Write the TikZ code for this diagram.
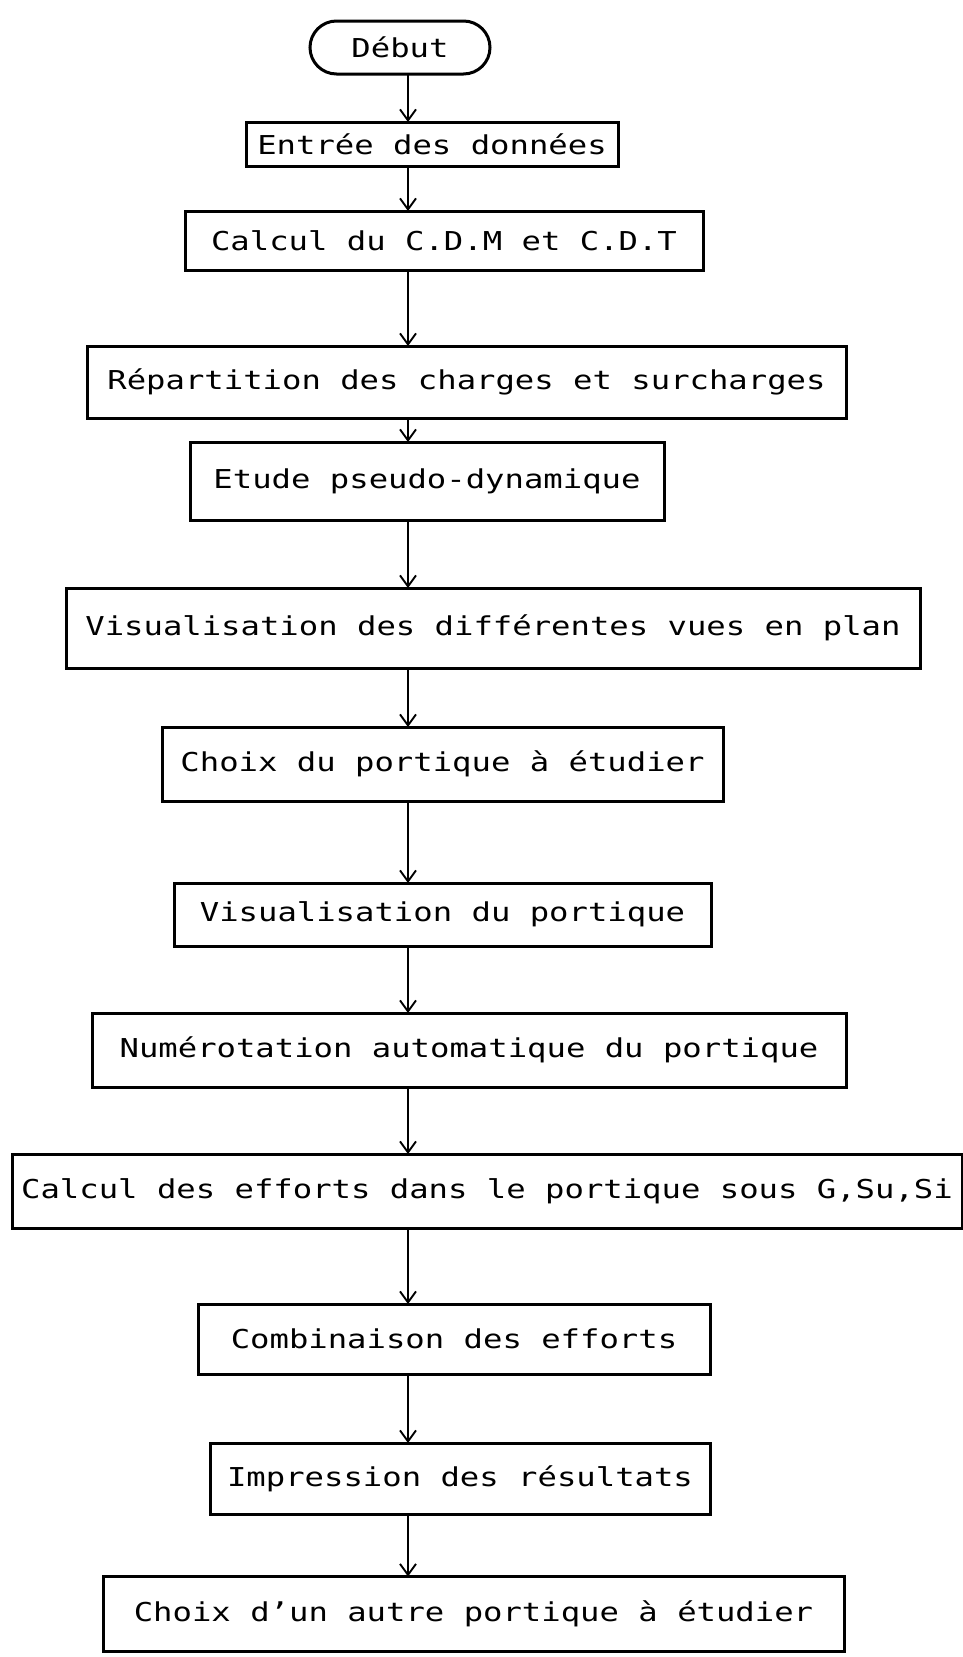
\documentclass[tikz,border=0pt]{standalone}
\usepackage{fontspec}
\usetikzlibrary{arrows.meta,shapes.misc}
\newfontfamily\boxfont[FakeStretch=1.24]{DejaVu Sans Mono}

\tikzset{
  stepbox/.style={draw, line width=3pt, inner sep=0pt, outer sep=0pt,
    font=\boxfont\fontsize{26}{30}\selectfont},
  startbox/.style={stepbox, rounded rectangle},
  flow/.style={line width=1.9pt, -{Straight Barb[length=11pt,width=16pt,line width=1.9pt]}}
}

\begin{document}
\begin{tikzpicture}[x=1pt,y=-1pt]
  \path[use as bounding box, fill=white] (0,0) rectangle (963,1657);

  % column of the connectors
  \coordinate (col) at (408,0);

  \node[startbox, minimum width=180pt, minimum height=53pt] (debut) at (400,47.5) {Début};
  \node[stepbox, minimum width=372pt, minimum height=44pt] (entree) at (432,144) {Entrée des données};
  \node[stepbox, minimum width=518pt, minimum height=59pt] (cdm) at (444,240.5) {Calcul du C.D.M et C.D.T};
  \node[stepbox, minimum width=759pt, minimum height=72pt] (rep) at (466.5,382) {Répartition des charges et surcharges};
  \node[stepbox, minimum width=474pt, minimum height=78pt] (etude) at (427,481) {Etude pseudo-dynamique};
  \node[stepbox, minimum width=854pt, minimum height=80pt] (vues) at (493,628) {Visualisation des différentes vues en plan};
  \node[stepbox, minimum width=561pt, minimum height=74pt] (choix) at (442.5,764) {Choix du portique à étudier};
  \node[stepbox, minimum width=537pt, minimum height=63pt] (visp) at (442.5,914.5) {Visualisation du portique};
  \node[stepbox, minimum width=754pt, minimum height=74pt] (num) at (469,1050) {Numérotation automatique du portique};
  \node[stepbox, minimum width=950pt, minimum height=74pt] (eff) at (487,1191) {Calcul des efforts dans le portique sous G,Su,Si};
  \node[stepbox, minimum width=512pt, minimum height=70pt] (comb) at (454,1339) {Combinaison des efforts};
  \node[stepbox, minimum width=500pt, minimum height=71pt] (imp) at (460,1478.5) {Impression des résultats};
  \node[stepbox, minimum width=741pt, minimum height=75pt] (autre) at (473.5,1614) {Choix d’un autre portique à étudier};

  \foreach \a/\b in {debut/entree, entree/cdm, cdm/rep, rep/etude, etude/vues,
                     vues/choix, choix/visp, visp/num, num/eff, eff/comb,
                     comb/imp, imp/autre}
    \draw[flow] (\a.south -| col) -- (\b.north -| col);
\end{tikzpicture}
\end{document}
